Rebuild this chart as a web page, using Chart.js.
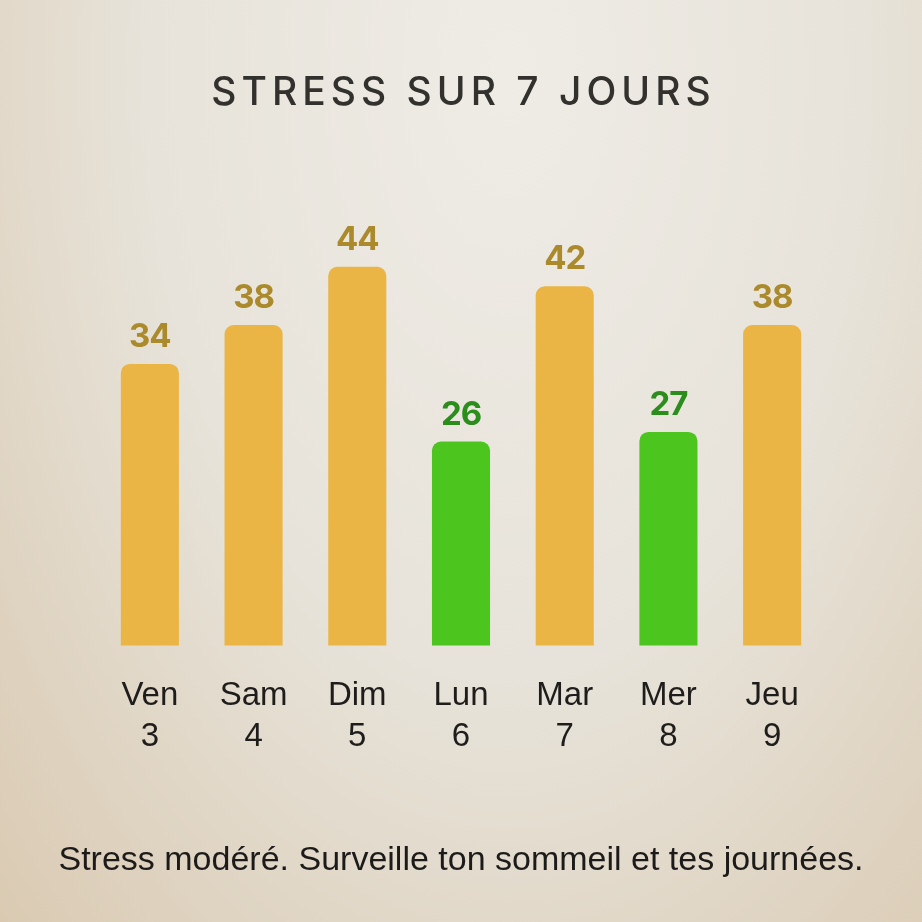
<!DOCTYPE html>
<html lang="fr">
<head>
<meta charset="utf-8">
<title>Stress sur 7 jours</title>
<script src="https://cdn.jsdelivr.net/npm/chart.js@4"></script>
<style>
  html, body { margin: 0; padding: 0; }
  body {
    width: 922px; height: 922px; overflow: hidden;
    background: radial-gradient(ellipse at 55% 8%, #efece6 0%, #e7e3da 50%, #dacab2 100%);
  }
  #stressChart { display: block; }
</style>
</head>
<body>
<canvas id="stressChart" width="922" height="922"></canvas>
<script>
// Data
const days = ['Ven', 'Sam', 'Dim', 'Lun', 'Mar', 'Mer', 'Jeu'];
const dates = ['3', '4', '5', '6', '7', '8', '9'];
const stressValues = [34, 38, 44, 26, 42, 27, 38];
const lowStressLimit = 30;

const titleText = 'STRESS SUR 7 JOURS';
const footerText = 'Stress modéré. Surveille ton sommeil et tes journées.';

const barColor = v => v < lowStressLimit ? '#4cc51e' : '#eab545';
const valueColor = v => v < lowStressLimit ? '#2b8d1c' : '#ab8a2c';

// title, value labels and footer
const textPlugin = {
    id: 'textPlugin',
    afterDatasetsDraw(chart) {
        const { ctx } = chart;
        const meta = chart.getDatasetMeta(0);
        ctx.save();
        ctx.font = 'bold 33px Inter, "Liberation Sans", sans-serif';
        ctx.letterSpacing = '-1px';
        ctx.textAlign = 'center';
        ctx.textBaseline = 'alphabetic';
        meta.data.forEach((bar, i) => {
            const v = stressValues[i];
            ctx.fillStyle = valueColor(v);
            ctx.fillText(String(v), bar.x, bar.y - 17);
        });
        ctx.restore();
    },
    afterDraw(chart) {
        const { ctx, width } = chart;
        ctx.save();
        ctx.textAlign = 'center';
        ctx.textBaseline = 'alphabetic';
        ctx.fillStyle = '#33312e';
        ctx.font = '500 39px Inter, "Liberation Sans", sans-serif';
        ctx.letterSpacing = '5px';
        ctx.fillText(titleText, width / 2 + 2.5, 105);
        ctx.letterSpacing = '0px';
        ctx.fillStyle = '#1c1b19';
        ctx.font = '34px "Liberation Sans", Arial, sans-serif';
        ctx.fillText(footerText, width / 2, 870, 808);
        ctx.restore();
    }
};

const ctx = document.getElementById('stressChart').getContext('2d');
new Chart(ctx, {
    type: 'bar',
    data: {
        labels: days.map((d, i) => [d, dates[i]]),
        datasets: [{
            data: stressValues,
            backgroundColor: stressValues.map(barColor),
            borderRadius: 9,
            borderSkipped: false,
            barPercentage: 0.56,
            categoryPercentage: 1
        }]
    },
    options: {
        responsive: false,
        animation: false,
        layout: { padding: { top: 228, left: 98, right: 98, bottom: 142 } },
        plugins: {
            legend: { display: false },
            tooltip: { enabled: false }
        },
        scales: {
            x: {
                grid: { display: false },
                border: { display: false },
                ticks: {
                    color: '#1e1d1b',
                    padding: 22,
                    font: { family: '"Liberation Sans", Arial, sans-serif', size: 33, lineHeight: 1.25 }
                }
            },
            y: {
                display: false,
                min: 5,
                max: 48
            }
        }
    },
    plugins: [textPlugin]
});
</script>
</body>
</html>
